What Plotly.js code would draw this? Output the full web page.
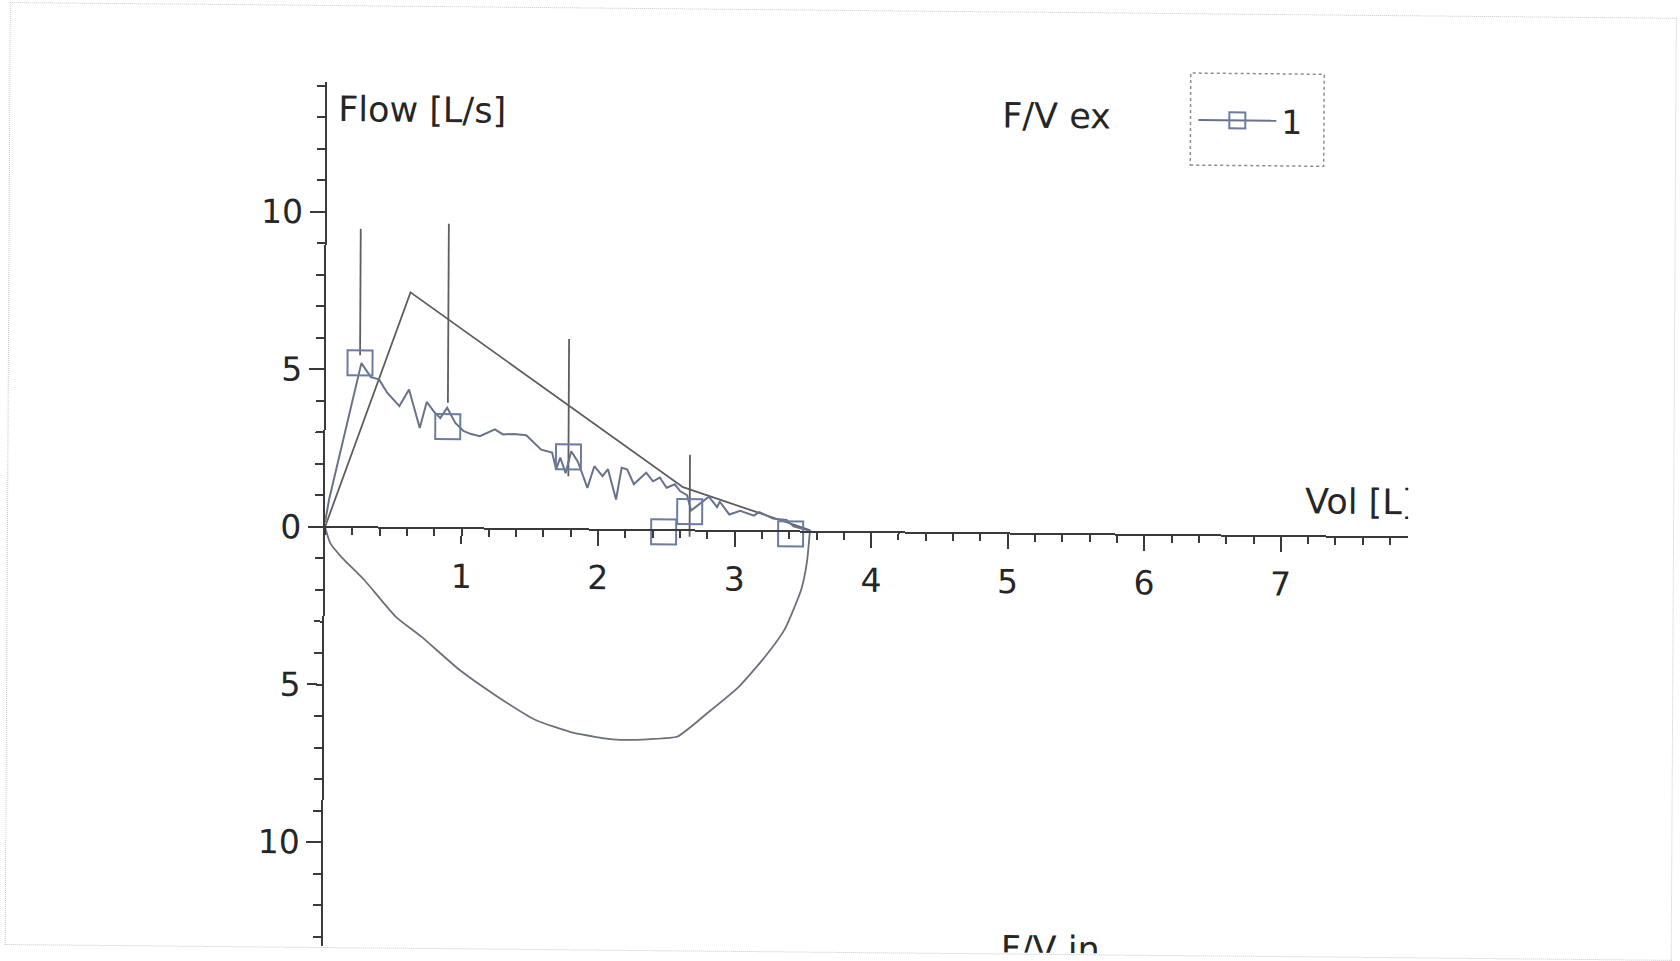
<!DOCTYPE html>
<html>
<head>
<meta charset="utf-8">
<script src="https://cdn.plot.ly/plotly-3.0.1.min.js"></script>
<style>
  html, body { margin: 0; padding: 0; background: #ffffff; width: 1680px; height: 961px; overflow: hidden; }
  #wrap { position: absolute; left: 0; top: 0; width: 1680px; height: 961px;
          transform-origin: 325px 527px; transform: matrix(1, 0.0095, -0.0054, 1, 0, 0); }
  #frame { position: absolute; left: 7px; top: 5px; width: 1665px; height: 941px;
           border: 1px dotted #c4c8d0; }
  #clip { position: absolute; left: 0; top: 0; width: 1408px; height: 946px; overflow: hidden; }
  #chart { position: absolute; left: 0; top: 0; width: 1600px; height: 1000px; }
</style>
</head>
<body>
<div id="wrap">
  <div id="frame"></div>
  <div id="clip"><div id="chart"></div></div>
</div>
<script>
// ---- Data (volume in L, flow in L/s) ----
// measured expiratory flow-volume curve
const volExp  = [0, 0.03, 0.26, 0.33, 0.39, 0.45, 0.54, 0.61, 0.69, 0.74, 0.79, 0.84, 0.89, 0.95, 1.01, 1.06, 1.13, 1.19, 1.24, 1.30, 1.38, 1.47, 1.58, 1.66, 1.69, 1.72, 1.76, 1.80, 1.85, 1.92, 1.97, 2.03, 2.07, 2.13, 2.17, 2.21, 2.26, 2.31, 2.35, 2.40, 2.45, 2.50, 2.56, 2.60, 2.65, 2.68, 2.75, 2.81, 2.87, 2.89, 2.96, 3.04, 3.14, 3.18, 3.28, 3.38, 3.43, 3.49, 3.56];
const flowExp = [0.15, 0.9, 5.21, 4.77, 4.70, 4.28, 3.86, 4.39, 3.17, 4.00, 3.71, 3.49, 3.82, 3.34, 3.09, 3.00, 2.93, 3.06, 3.15, 2.99, 3.01, 2.97, 2.52, 2.43, 1.90, 2.27, 1.78, 2.48, 2.14, 1.32, 2.01, 1.70, 1.92, 0.96, 1.97, 1.92, 1.45, 1.66, 1.82, 1.55, 1.67, 1.35, 1.46, 1.24, 1.12, 0.63, 0.88, 1.08, 0.75, 0.92, 0.52, 0.64, 0.49, 0.60, 0.40, 0.36, 0.16, 0.10, 0.02];
// measured inspiratory curve (plotted below the volume axis)
const volInsp  = [0, 0.04, 0.12, 0.29, 0.52, 0.71, 0.99, 1.27, 1.55, 1.83, 2.14, 2.39, 2.59, 2.81, 3.04, 3.23, 3.37, 3.49, 3.53, 3.55];
const flowInsp = [0, -0.52, -0.94, -1.67, -2.82, -3.45, -4.49, -5.33, -6.06, -6.46, -6.66, -6.63, -6.54, -5.78, -4.93, -3.97, -3.11, -1.84, -0.98, -0.03];
// predicted expiratory curve
const volPred  = [0, 0.617, 2.62, 3.55];
const flowPred = [0, 7.47, 1.37, 0.05];
// marker points of series "1"
const volMarkers  = [0.25, 0.895, 1.78, 2.48, 2.67, 3.41];
const flowMarkers = [5.22, 3.22, 2.30, -0.05, 0.60, -0.08];
// reference range whiskers
const whiskerVol  = [0.25, 0.895, 1.78, 2.67];
const whiskerLow  = [5.46, 3.98, 1.68, -0.20];
const whiskerHigh = [9.47, 9.66, 6.04, 2.40];
// axis ticks
const xTickVals = [1, 2, 3, 4, 5, 6, 7, 8];
const xTickText = ['1', '2', '3', '4', '5', '6', '7', '8'];
const yTickVals = [-10, -5, 0, 5, 10];
const yTickText = ['10', '5', '0', '5', '10'];
const seriesName = '1';

// ---- Build whisker segments ----
const wx = [], wy = [];
whiskerVol.forEach((v, i) => { wx.push(v, v, null); wy.push(whiskerLow[i], whiskerHigh[i], null); });

const FONT = 'DejaVu Sans, Verdana, sans-serif';
const TXT = '#262626';
const AX = '#3a3a3a';
const MEAS = '#69728c';
const MARK = '#6b7ca0';
const PRED = '#5e5e5e';

const traces = [
  { x: volInsp, y: flowInsp, type: 'scatter', mode: 'lines', showlegend: false,
    line: { color: '#6c707c', width: 1.8, shape: 'spline', smoothing: 0.5 }, hoverinfo: 'skip' },
  { x: volPred, y: flowPred, type: 'scatter', mode: 'lines', showlegend: false,
    line: { color: PRED, width: 1.8 }, hoverinfo: 'skip' },
  { x: wx, y: wy, type: 'scatter', mode: 'lines', showlegend: false,
    line: { color: PRED, width: 1.8 }, hoverinfo: 'skip' },
  { x: volExp, y: flowExp, type: 'scatter', mode: 'lines', showlegend: false,
    line: { color: MEAS, width: 2 }, hoverinfo: 'skip' },
  { x: volMarkers, y: flowMarkers, type: 'scatter', mode: 'markers', showlegend: false,
    marker: { symbol: 'square-open', size: 25, color: MARK, line: { width: 2, color: MARK } } },
  { x: [null], y: [null], type: 'scatter', mode: 'lines+markers', name: seriesName, showlegend: true,
    line: { color: MEAS, width: 2 },
    marker: { symbol: 'square-open', size: 25, color: MARK, line: { width: 2, color: MARK } } }
];

const layout = {
  width: 1600, height: 1000, autosize: false,
  margin: { l: 325, r: 45.6, t: 82.2, b: 28.2, pad: 0 },
  paper_bgcolor: 'rgba(0,0,0,0)', plot_bgcolor: 'rgba(0,0,0,0)',
  font: { family: FONT, size: 33, color: TXT },
  showlegend: true,
  legend: {
    x: 0.7047, xanchor: 'left', y: 0.9665, yanchor: 'middle', xref: 'paper', yref: 'paper',
    bgcolor: 'rgba(0,0,0,0)', borderwidth: 0, itemwidth: 78,
    font: { family: FONT, size: 33, color: TXT }
  },
  xaxis: {
    range: [0, 9], anchor: 'free', position: 0.5,
    showline: true, linecolor: AX, linewidth: 2,
    showgrid: false, zeroline: false,
    tickmode: 'array', tickvals: xTickVals, ticktext: xTickText,
    ticks: 'outside', ticklen: 15, tickwidth: 2, tickcolor: AX,
    ticklabelstandoff: 4,
    tickfont: { family: FONT, size: 33, color: TXT },
    minor: { dtick: 0.2, tick0: 0, ticks: 'outside', ticklen: 7, tickwidth: 2, tickcolor: AX, showgrid: false }
  },
  yaxis: {
    range: [-14.12, 14.12], anchor: 'x',
    showline: true, linecolor: AX, linewidth: 2,
    showgrid: false, zeroline: false,
    tickmode: 'array', tickvals: yTickVals, ticktext: yTickText,
    ticks: 'outside', ticklen: 15, tickwidth: 2, tickcolor: AX,
    ticklabelstandoff: 0,
    tickfont: { family: FONT, size: 33, color: TXT },
    minor: { dtick: 1, tick0: 0, ticks: 'outside', ticklen: 8, tickwidth: 2, tickcolor: AX, showgrid: false }
  },
  annotations: [
    { text: 'Flow [L/s]', x: 0.066, y: 13.27, xref: 'x', yref: 'y', xanchor: 'left', yanchor: 'middle',
      showarrow: false, font: { family: FONT, size: 35, color: TXT } },
    { text: 'F/V ex', x: 4.93, y: 13.27, xref: 'x', yref: 'y', xanchor: 'left', yanchor: 'middle',
      showarrow: false, font: { family: FONT, size: 35, color: TXT } },
    { text: 'Vol [L]', x: 7.16, y: 1.1, xref: 'x', yref: 'y', xanchor: 'left', yanchor: 'middle',
      showarrow: false, font: { family: FONT, size: 35, color: TXT } },
    { text: 'F/V in', x: 4.95, y: -13.17, xref: 'x', yref: 'y', xanchor: 'left', yanchor: 'middle',
      showarrow: false, font: { family: FONT, size: 35, color: TXT } }
  ],
  shapes: [
    { type: 'rect', xref: 'paper', yref: 'paper', x0: 0.7024, x1: 0.811, y0: 0.9159, y1: 1.0193,
      line: { color: '#8c8c8c', width: 1.5, dash: 'dot' }, fillcolor: 'rgba(0,0,0,0)' }
  ]
};

Plotly.newPlot('chart', traces, layout, { staticPlot: true, displayModeBar: false });
</script>
</body>
</html>
